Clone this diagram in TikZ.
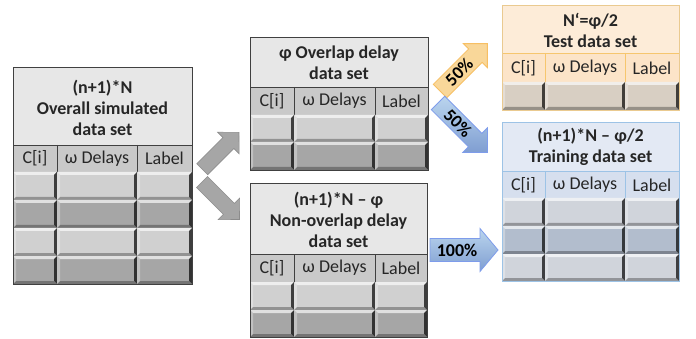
\documentclass[tikz,border=0pt]{standalone}
\usepackage{fontspec}
\setmainfont{Carlito}
\definecolor{gTitle}{HTML}{E7E7E7}
\definecolor{gHead}{HTML}{C9C9C9}
\definecolor{gLine}{HTML}{404040}
\definecolor{gLight}{HTML}{D0D0D0}
\definecolor{gDark}{HTML}{A6A6A6}
\definecolor{yTitle}{HTML}{FDECD8}
\definecolor{yHead}{HTML}{FCE4C8}
\definecolor{yLine}{HTML}{F6C66E}
\definecolor{yCell}{HTML}{D8CFC3}
\definecolor{bTitle}{HTML}{E3E9F4}
\definecolor{bHead}{HTML}{D6DFEE}
\definecolor{bLine}{HTML}{9DC3E6}
\definecolor{bLight}{HTML}{D0D4DB}
\definecolor{bDark}{HTML}{B2BDCD}
\definecolor{txt}{HTML}{262626}
\newcommand\bcell[5]{%
 \pgfmathsetmacro\bcXa{#1+3}\pgfmathsetmacro\bcXb{#3-3}%
 \pgfmathsetmacro\bcYa{#2+3}\pgfmathsetmacro\bcYb{#4-3}%
 \fill[#5] (\bcXa,\bcYa) rectangle (\bcXb,\bcYb);
 \fill[#5!35!white] (#1,#2) -- (#3,#2) -- (\bcXb,\bcYa) -- (\bcXa,\bcYa) -- cycle;
 \fill[#5!70!white] (#1,#2) -- (\bcXa,\bcYa) -- (\bcXa,\bcYb) -- (#1,#4) -- cycle;
 \fill[#5!70!black] (#1,#4) -- (\bcXa,\bcYb) -- (\bcXb,\bcYb) -- (#3,#4) -- cycle;
 \fill[#5!30!black] (#3,#2) -- (#3,#4) -- (\bcXb,\bcYb) -- (\bcXb,\bcYa) -- cycle;
}
\newcommand\barrow[9]{%
 \begin{scope}[shift={(#2,#3)},rotate=#4]
 \pgfmathsetmacro\baL{#5-#8}\pgfmathsetmacro\baS{#6/2}\pgfmathsetmacro\baH{#7/2}
 \draw[#9] (0,-\baS) -- (\baL,-\baS) -- (\baL,-\baH) -- (#5,0) -- (\baL,\baH) -- (\baL,\baS) -- (0,\baS) -- cycle;
 \coordinate (#1) at (\baL/2+2,0);
 \end{scope}}
\tikzset{
 ttext/.style={text=txt,font=\fontsize{18}{21}\selectfont\bfseries,align=center,inner sep=0pt},
 htext/.style={text=txt,font=\fontsize{18}{21}\selectfont,inner sep=0pt},
 pct/.style={text=black,font=\fontsize{18}{21}\selectfont\bfseries,inner sep=0pt},
 grayarrow/.style={fill=gDark,draw=gray!90,line width=0.6pt},
 yellowarrow/.style={fill=yLine!70!white,draw=yLine!90!orange,line width=0.8pt},
 bluearrow/.style={top color=bLine!70!white,bottom color=bLine!90!blue!90!black,draw=bLine!80!blue,line width=0.8pt},
}
\begin{document}
\begin{tikzpicture}[x=1pt,y=-1pt,line join=miter]
\useasboundingbox (0,0) rectangle (696,339);
\fill[white] (0,0) rectangle (696,339);
% ---------- Table 1: overall ----------
\draw[fill=gTitle,draw=gLine,line width=0.7pt] (13,67) rectangle (192,145);
\node[ttext] (t1title) at (102.5,108) {(n+1)*N\\Overall simulated\\data set};
\draw[fill=gHead,draw=gLine,line width=0.7pt] (13,145) rectangle (192,172);
\draw[gLine,line width=0.7pt] (57,145) -- (57,172) (137,145) -- (137,172);
\node[htext] (t1c) at (35,158.5) {C[i]};
\node[htext] (t1d) at (97,158.5) {ω Delays};
\node[htext] (t1l) at (164.5,158.5) {Label};
\foreach \ya/\yb/\cc in {172/200/gLight,200/228/gDark,228/256/gLight,256/284/gDark}{
 \bcell{13}{\ya}{57}{\yb}{\cc}
 \bcell{57}{\ya}{137}{\yb}{\cc}
 \bcell{137}{\ya}{192}{\yb}{\cc}}
\draw[gLine,line width=0.7pt] (13,67) rectangle (192,284);
% ---------- Table 2: overlap ----------
\draw[fill=gTitle,draw=gLine,line width=0.7pt] (250,37) rectangle (428,87);
\node[ttext] (t2title) at (339,63) {φ Overlap delay\\data set};
\draw[fill=gHead,draw=gLine,line width=0.7pt] (250,87) rectangle (428,115);
\draw[gLine,line width=0.7pt] (294,87) -- (294,115) (375,87) -- (375,115);
\node[htext] (t2c) at (272,101) {C[i]};
\node[htext] (t2d) at (334.5,101) {ω Delays};
\node[htext] (t2l) at (401.5,101) {Label};
\foreach \ya/\yb/\cc in {115/142/gLight,142/170/gDark}{
 \bcell{250}{\ya}{294}{\yb}{\cc}
 \bcell{294}{\ya}{375}{\yb}{\cc}
 \bcell{375}{\ya}{428}{\yb}{\cc}}
\draw[gLine,line width=0.7pt] (250,37) rectangle (428,170);
% ---------- Table 3: non-overlap ----------
\draw[fill=gTitle,draw=gLine,line width=0.7pt] (250,183) rectangle (427,254);
\node[ttext] (t3title) at (338.5,220) {(n+1)*N – φ\\Non-overlap delay\\data set};
\draw[fill=gHead,draw=gLine,line width=0.7pt] (250,254) rectangle (427,282);
\draw[gLine,line width=0.7pt] (294,254) -- (294,282) (375,254) -- (375,282);
\node[htext] (t3c) at (272,268) {C[i]};
\node[htext] (t3d) at (334.5,268) {ω Delays};
\node[htext] (t3l) at (401,268) {Label};
\foreach \ya/\yb/\cc in {282/310/gLight,310/337/gDark}{
 \bcell{250}{\ya}{294}{\yb}{\cc}
 \bcell{294}{\ya}{375}{\yb}{\cc}
 \bcell{375}{\ya}{427}{\yb}{\cc}}
\draw[gLine,line width=0.7pt] (250,183) rectangle (427,337);
% ---------- Table 4: test ----------
\draw[fill=yTitle,draw=yLine,line width=0.8pt] (502,5) rectangle (679,53);
\node[ttext] (t4title) at (590.5,30) {N‘=φ/2\\Test data set};
\draw[fill=yHead,draw=yLine,line width=0.8pt] (502,53) rectangle (679,82);
\draw[yLine,line width=0.8pt] (545,53) -- (545,82) (625,53) -- (625,82);
\node[htext] (t4c) at (523.5,68) {C[i]};
\node[htext] (t4d) at (585,68) {ω Delays};
\node[htext] (t4l) at (652,68) {Label};
\bcell{502}{82}{545}{110}{yCell}
\bcell{545}{82}{625}{110}{yCell}
\bcell{625}{82}{679}{110}{yCell}
\draw[yLine!60!yCell,line width=0.8pt] (502,5) rectangle (679,110);
% ---------- Table 5: training ----------
\draw[fill=bTitle,draw=bLine,line width=0.8pt] (502,122) rectangle (679,171);
\node[ttext] (t5title) at (590.5,147) {(n+1)*N – φ/2\\Training data set};
\draw[fill=bHead,draw=bLine,line width=0.8pt] (502,171) rectangle (679,198);
\draw[bLine,line width=0.8pt] (545,171) -- (545,198) (625,171) -- (625,198);
\node[htext] (t5c) at (523.5,185) {C[i]};
\node[htext] (t5d) at (585,185) {ω Delays};
\node[htext] (t5l) at (652,185) {Label};
\foreach \ya/\yb/\cc in {198/226/bLight,226/254/bDark,254/281/bLight}{
 \bcell{502}{\ya}{545}{\yb}{\cc}
 \bcell{545}{\ya}{625}{\yb}{\cc}
 \bcell{625}{\ya}{679}{\yb}{\cc}}
\draw[bLine,line width=0.8pt] (502,122) rectangle (679,281);
% ---------- Arrows ----------
\barrow{gup}{202.2}{169.2}{45}{52}{15.5}{30.5}{15}{grayarrow}
\barrow{gdown}{202}{182}{-45}{53}{15.5}{30.5}{15}{grayarrow}
\barrow{yarr}{440}{91}{45}{67}{19}{34}{17}{yellowarrow}
\node[pct,rotate=45] (ylab) at (yarr) {50\%};
\barrow{barr}{438}{103}{-45}{70}{19}{35}{17.5}{bluearrow}
\node[pct,rotate=-45] (blab) at (barr) {50\%};
\barrow{harr}{430}{250}{0}{68}{23}{43}{18}{bluearrow}
\node[pct] (hlab) at (harr) {100\%};
\end{tikzpicture}
\end{document}
